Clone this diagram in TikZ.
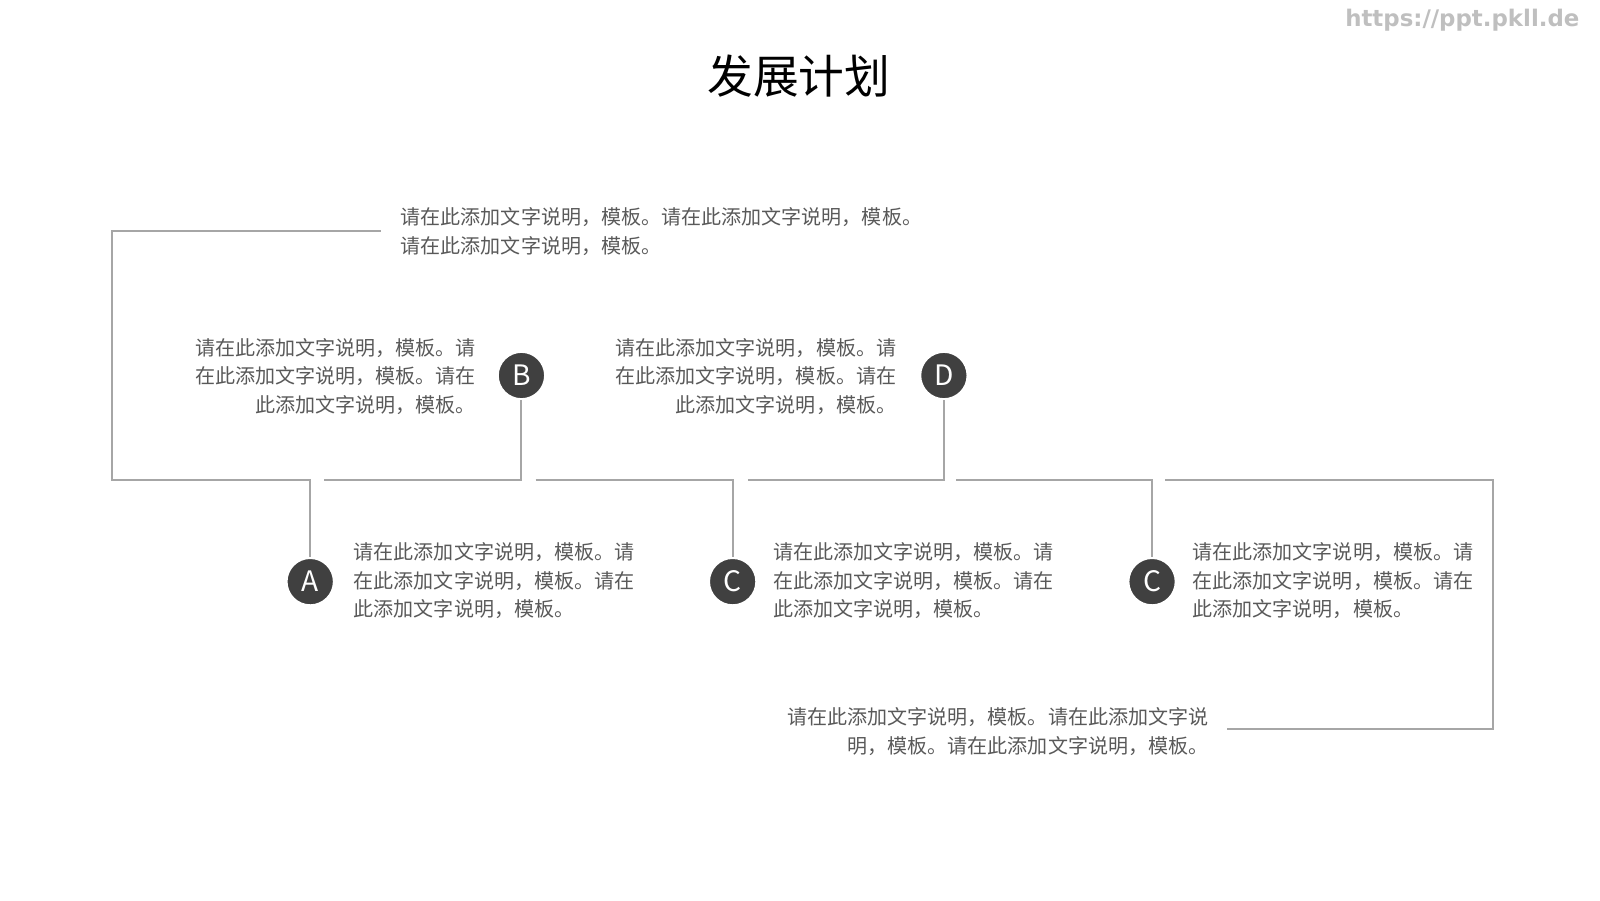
\documentclass[tikz,border=0pt]{standalone}
\usepackage{fontspec}
\setmainfont{Noto Sans CJK SC}
\newfontfamily\wmfont{DejaVu Sans}
\usetikzlibrary{positioning}
\definecolor{linegray}{HTML}{A6A6A6}
\definecolor{textgray}{HTML}{595959}
\definecolor{dotgray}{HTML}{404040}
\tikzset{%
  % line and node styles
       link/.style = {draw=linegray, line width=0.6pt},
       dot/.style = {circle, fill=dotgray, draw=white, line width=0.5pt,
                     minimum size=0.47cm, inner sep=0pt, text=white,
                     font=\fontsize{8}{8}\selectfont},
       note/.style = {text=textgray, inner sep=0pt,
                      font=\fontsize{5.7}{8.1}\selectfont},
       noteL/.style = {note, align=left, anchor=west},
       noteR/.style = {note, align=right, anchor=east},
}
\begin{document}
\begin{tikzpicture}[x=0.0102cm, y=-0.0102cm]
  \useasboundingbox (0,0) rectangle (1568,882);
  % title and mark
  \node (title) at (783,75) {\fontsize{13}{13}\selectfont 发展计划};
  \node (mark) [anchor=east, text=black!25, font=\wmfont\bfseries\fontsize{6.5}{6.5}\selectfont] at (1560,20) {https://ppt.pkll.de};

  % circles
  \node (a)  [dot] at (304,570) {A};
  \node (b)  [dot] at (511,368) {B};
  \node (c)  [dot] at (718,570) {C};
  \node (d)  [dot] at (925,368) {D};
  \node (c2) [dot] at (1129,570) {C};

  % corner points of the lines
  \coordinate (tl) at (110,226);
  \coordinate (te) at (373,226);
  \coordinate (ml) at (110,470);
  \coordinate (pa) at (304,470);
  \coordinate (sb) at (318,470);
  \coordinate (pb) at (511,470);
  \coordinate (sc) at (525,470);
  \coordinate (pc) at (718,470);
  \coordinate (sd) at (733,470);
  \coordinate (pd) at (925,470);
  \coordinate (se) at (937,470);
  \coordinate (pe) at (1129,470);
  \coordinate (sf) at (1142,470);
  \coordinate (mr) at (1463,470);
  \coordinate (br) at (1463,714);
  \coordinate (be) at (1202,714);

  % lines
  \draw[link] (te) -- (tl) -- (ml) -- (pa) -- (a);
  \draw[link] (sb) -- (pb) -- (b);
  \draw[link] (sc) -- (pc) -- (c);
  \draw[link] (sd) -- (pd) -- (d);
  \draw[link] (se) -- (pe) -- (c2);
  \draw[link] (sf) -- (mr) -- (br) -- (be);

  % texts
  \node (ttop) [note, align=left, anchor=west] at (392,227)
    {请在此添加文字说明，模板。请在此添加文字说明，模板。\\请在此添加文字说明，模板。};
  \node (tb) [noteR] at (467,369)
    {请在此添加文字说明，模板。请\\在此添加文字说明，模板。请在\\此添加文字说明，模板。};
  \node (td) [noteR] at (879,369)
    {请在此添加文字说明，模板。请\\在此添加文字说明，模板。请在\\此添加文字说明，模板。};
  \node (ta) [noteL] at (346,569)
    {请在此添加文字说明，模板。请\\在此添加文字说明，模板。请在\\此添加文字说明，模板。};
  \node (tc) [noteL] at (757,569)
    {请在此添加文字说明，模板。请\\在此添加文字说明，模板。请在\\此添加文字说明，模板。};
  \node (tc2) [noteL] at (1168,569)
    {请在此添加文字说明，模板。请\\在此添加文字说明，模板。请在\\此添加文字说明，模板。};
  \node (tbot) [noteR] at (1185,717)
    {请在此添加文字说明，模板。请在此添加文字说\\明，模板。请在此添加文字说明，模板。};
\end{tikzpicture}
\end{document}
